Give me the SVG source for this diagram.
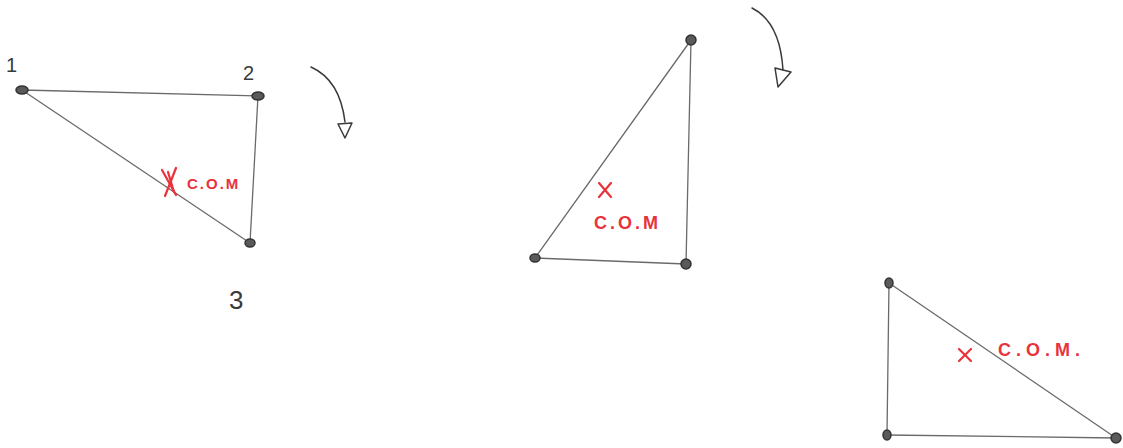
<svg xmlns="http://www.w3.org/2000/svg" width="1123" height="448" viewBox="0 0 1123 448">
<style>
.edge{stroke:#6a6a6a;stroke-width:1.3;fill:none}
.dot{fill:#5a5a5a;stroke:#333;stroke-width:1.5}
.lbl{font-family:"Liberation Sans",Arial,sans-serif;fill:#3a3a3a}
.com{font-family:"Liberation Sans",Arial,sans-serif;fill:#e8333b;font-weight:bold}
.x{stroke:#e8333b;stroke-width:2.2;stroke-linecap:round}
.arr{stroke:#3a3a3a;stroke-width:1.5;fill:none;stroke-linecap:round;stroke-linejoin:round}
</style>
<rect width="1123" height="448" fill="#ffffff"/>
<g id="connectors">
  <line class="edge" x1="22" y1="90" x2="258" y2="96"/>
  <line class="edge" x1="258" y1="96" x2="250" y2="243"/>
  <line class="edge" x1="22" y1="90" x2="250" y2="243"/>
  <line class="edge" x1="691" y1="40" x2="535" y2="258"/>
  <line class="edge" x1="691" y1="40" x2="686" y2="264"/>
  <line class="edge" x1="535" y1="258" x2="686" y2="264"/>
  <line class="edge" x1="889" y1="283" x2="887" y2="435"/>
  <line class="edge" x1="889" y1="283" x2="1116" y2="438"/>
  <line class="edge" x1="887" y1="435" x2="1116" y2="438"/>
</g>
<g id="tri1">
  <ellipse class="dot" cx="22" cy="90" rx="6" ry="4"/>
  <ellipse class="dot" cx="258" cy="96" rx="6" ry="4"/>
  <ellipse class="dot" cx="250" cy="243" rx="5" ry="4"/>
  <text class="lbl" x="6" y="72" font-size="20">1</text>
  <text class="lbl" x="243" y="80" font-size="20">2</text>
  <text class="lbl" x="229" y="309" font-size="26">3</text>
  <line class="x" x1="162" y1="170" x2="176" y2="195"/>
  <line class="x" x1="176" y1="168" x2="165" y2="196"/>
  <line class="x" x1="168" y1="172" x2="174" y2="192"/>
  <text class="com" x="187" y="189" font-size="15" letter-spacing="2">C.O.M</text>
</g>
<g id="arrow1">
  <path class="arr" d="M311 67 Q340 80 345 122"/>
  <path class="arr" d="M338 124 L352 123 L345 138 L341 130 Z"/>
</g>
<g id="tri2">
  <ellipse class="dot" cx="691" cy="40" rx="5" ry="5"/>
  <ellipse class="dot" cx="535" cy="258" rx="5" ry="4"/>
  <ellipse class="dot" cx="686" cy="264" rx="5" ry="5"/>
  <line class="x" x1="599" y1="183" x2="611" y2="197"/>
  <line class="x" x1="611" y1="183" x2="599" y2="197"/>
  <text class="com" x="594" y="229" font-size="18" letter-spacing="3">C.O.M</text>
</g>
<g id="arrow2">
  <path class="arr" d="M752 8 Q780 22 783 70"/>
  <path class="arr" d="M775 68 L791 72 L778 87 Z"/>
</g>
<g id="tri3">
  <ellipse class="dot" cx="889" cy="283" rx="4" ry="5"/>
  <ellipse class="dot" cx="887" cy="435" rx="4" ry="5"/>
  <ellipse class="dot" cx="1116" cy="438" rx="5" ry="5"/>
  <line class="x" x1="959" y1="349" x2="971" y2="361"/>
  <line class="x" x1="971" y1="349" x2="959" y2="361"/>
  <text class="com" x="998" y="356" font-size="18" letter-spacing="5">C.O.M.</text>
</g>
</svg>
